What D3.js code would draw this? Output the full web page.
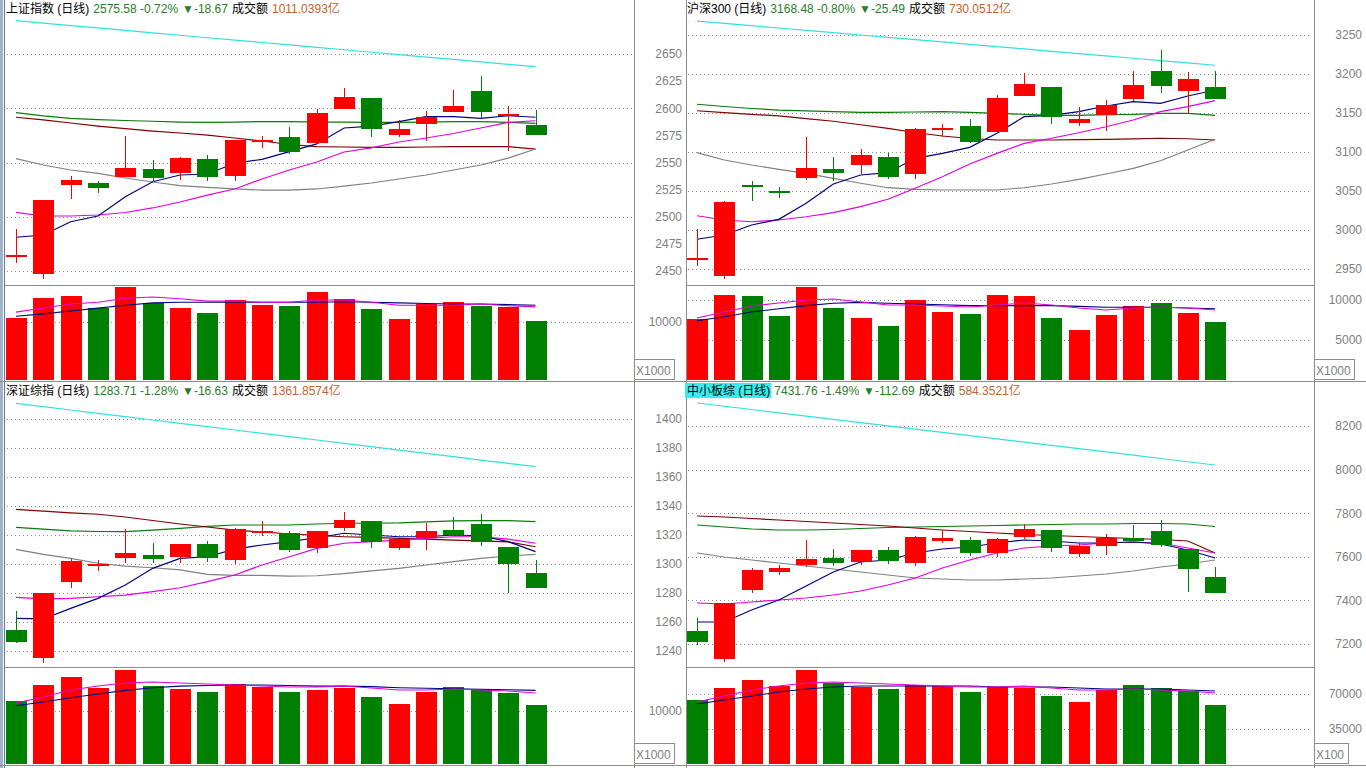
<!DOCTYPE html>
<html><head><meta charset="utf-8">
<script src="https://cdn.jsdelivr.net/npm/d3@7"></script>
<style>
body{margin:0;background:#fff;overflow:hidden}
svg{display:block;font-family:"Liberation Sans","Noto Sans CJK SC",sans-serif}
</style></head>
<body><svg id="c" width="1366" height="768"></svg>
<script>
// ---------- categories (trading days) ----------
const days = ["1","2","3","4","5","6","7","8","9","10","11","12","13","14","15","16","17","18","19","20"];

// ---------- 上证指数 ----------
const shOpen  = [2464.1,2447.2,2529.5,2531.1,2536.9,2543.7,2540.6,2552.9,2537.8,2568.3,2573.8,2568.3,2599.6,2609.4,2575.3,2584.8,2596.5,2615.9,2592.2,2584.6];
const shHigh  = [2488.7,2515.8,2537.8,2533.0,2574.4,2552.0,2555.3,2556.9,2571.0,2574.4,2582.7,2599.6,2618.7,2609.4,2589.2,2597.5,2616.8,2629.4,2602.1,2598.4];
const shLow   = [2457.4,2442.4,2516.4,2521.6,2536.2,2532.3,2533.9,2533.2,2533.2,2563.6,2557.8,2568.0,2599.2,2573.8,2573.2,2570.1,2596.2,2591.0,2560.9,2575.3];
const shClose = [2464.5,2515.4,2533.9,2526.8,2544.9,2535.4,2554.1,2536.0,2570.7,2570.5,2560.0,2595.6,2610.4,2580.6,2580.9,2591.7,2602.1,2596.5,2594.25,2575.58];
const shMA5   = [2481.1,2483.2,2495.4,2500.7,2518.5,2532.3,2538.5,2539.4,2549.3,2552.9,2560.0,2567.1,2581.8,2583.6,2587.6,2592.2,2592.2,2590.7,2593.1,2591.7];
const shMA10  = [2504.1,2500.7,2500.7,2501.6,2503.9,2508.1,2513.6,2520.0,2525.6,2534.8,2543.1,2550.5,2559.7,2563.4,2568.9,2572.6,2576.7,2581.8,2586.9,2588.5];
const shMA20  = [2553.5,2547.7,2543.1,2540.0,2535.7,2532.0,2528.6,2527.0,2525.6,2524.6,2524.6,2525.6,2528.3,2531.1,2534.8,2538.5,2543.1,2547.7,2554.1,2562.4];
const shMA30  = [2595.9,2592.9,2590.6,2589.6,2588.7,2588.0,2587.3,2587.0,2587.3,2587.8,2587.6,2587.3,2587.3,2587.0,2587.0,2587.3,2587.6,2587.6,2587.0,2586.1];
const shMA60  = [2591.7,2589.2,2586.4,2583.6,2581.3,2579.0,2577.2,2575.3,2572.6,2569.8,2566.6,2564.7,2564.3,2564.0,2564.0,2564.3,2564.6,2564.6,2564.6,2562.4];
const shMA120 = [2680.7,2678.4,2676.2,2674.0,2671.8,2669.5,2667.3,2665.0,2662.8,2660.6,2658.4,2656.1,2653.9,2651.6,2649.4,2647.2,2645.0,2642.8,2640.5,2638.3];
const shVol   = [10690,14138,14483,12414,16034,13276,12414,11552,13793,12931,12759,15172,13966,12241,10517,13103,13448,12759,12586,10172];
const shVolMA5  = [11700,12400,13100,13400,14100,14300,14000,13600,13600,13400,13400,13800,13800,13400,12900,12900,12900,13100,12800,12600];
const shVolMA10 = [11000,11400,11900,12400,12900,13300,13400,13400,13400,13400,13400,13400,13500,13400,13300,13200,13100,13100,13000,12900];
const shTicks = [2650,2625,2600,2575,2550,2525,2500,2475,2450];
const shGrid  = [2650,2600,2550,2500,2450];
const shVolTicks = [10000];

// ---------- 沪深300 ----------
const hsOpen  = [2964.3,2941.4,3057.2,3050.4,3065.8,3077.8,3083.7,3093.6,3071.8,3127.3,3133.3,3125.6,3172.2,3183.3,3137.6,3147.1,3167.1,3203.8,3179.1,3183.3];
const hsHigh  = [3000.9,3036.8,3062.8,3055.5,3119.2,3093.6,3103.8,3098.3,3130.3,3135.9,3142.3,3172.7,3200.9,3183.3,3158.1,3166.7,3203.8,3230.8,3202.6,3203.8];
const hsLow   = [2954.2,2936.8,3037.6,3040.6,3064.5,3063.2,3071.8,3065.8,3065.8,3118.8,3111.2,3125.6,3172.2,3135.9,3133.3,3127.3,3165.8,3176.0,3149.6,3168.48];
const hsClose = [2964.6,3035.9,3056.8,3050.0,3079.1,3073.1,3096.2,3068.3,3129.5,3130.4,3113.2,3169.2,3187.2,3145.3,3142.7,3160.3,3185.5,3185.0,3193.97,3168.48];
const hsMA5   = [2988.1,2993.6,3006.4,3013.7,3034.2,3059.0,3070.5,3073.5,3091.9,3098.3,3106.0,3124.0,3145.3,3147.0,3151.7,3159.0,3164.5,3162.4,3171.8,3179.5];
const hsMA10  = [3018.3,3012.8,3010.6,3012.8,3017.0,3022.2,3029.9,3039.4,3053.5,3068.3,3084.6,3098.3,3111.1,3117.6,3124.7,3132.4,3141.0,3151.7,3158.1,3165.8];
const hsMA20  = [3099.1,3089.7,3083.3,3077.8,3072.7,3066.3,3059.9,3054.2,3052.2,3051.3,3051.3,3051.3,3054.2,3059.0,3065.0,3071.8,3079.1,3088.8,3102.6,3116.3];
const hsMA30  = [3161.2,3158.3,3155.8,3153.8,3152.6,3151.7,3150.9,3150.9,3151.3,3151.7,3150.9,3149.6,3148.3,3147.0,3147.0,3147.8,3148.3,3149.6,3149.6,3147.0];
const hsMA60  = [3152.9,3150.6,3148.3,3146.2,3142.9,3139.4,3134.9,3130.4,3125.0,3120.5,3117.3,3115.4,3115.4,3115.4,3115.8,3116.3,3116.7,3117.6,3117.0,3115.4];
const hsMA120 = [3267.9,3264.9,3261.9,3259.0,3256.0,3253.0,3250.0,3247.0,3244.0,3241.1,3238.1,3235.1,3232.1,3229.1,3226.1,3223.2,3220.2,3217.2,3214.2,3211.2];
const hsVol   = [7625,10625,10500,8000,11625,9000,7750,6750,10000,8500,8250,10625,10500,7750,6250,8125,9250,9625,8375,7250];
const hsVolMA5  = [7750,8500,9250,9625,10000,10125,9750,9375,9375,9250,9125,9375,9625,9375,9000,8750,9000,9125,9000,8750];
const hsVolMA10 = [7400,7900,8500,8900,9300,9600,9700,9600,9500,9400,9300,9300,9300,9300,9200,9100,9100,9100,9000,8900];
const hsTicks = [3250,3200,3150,3100,3050,3000,2950];
const hsVolTicks = [10000,5000];

// ---------- 深证综指 ----------
const szOpen  = [1254.5,1234.9,1287.8,1299.1,1304.3,1306.2,1305.0,1313.8,1302.3,1322.3,1321.6,1311.2,1324.6,1329.7,1311.2,1318.1,1323.4,1327.6,1311.9,1293.8];
const szHigh  = [1267.6,1279.8,1303.2,1302.8,1324.1,1314.7,1313.8,1315.9,1324.6,1329.7,1322.8,1322.8,1336.1,1329.7,1317.2,1328.1,1332.2,1334.5,1311.9,1303.0];
const szLow   = [1245.3,1231.9,1283.7,1295.4,1300.9,1300.9,1300.9,1301.6,1299.8,1319.5,1308.5,1307.4,1322.8,1311.2,1309.7,1309.7,1320.0,1312.6,1280.2,1283.71];
const szClose = [1246.4,1279.8,1302.1,1300.0,1307.6,1303.7,1313.8,1304.3,1323.9,1322.8,1309.7,1322.8,1330.3,1315.4,1317.2,1322.8,1320.0,1315.4,1300.34,1283.71];
const szMA5   = [1262.5,1262.1,1269.4,1276.3,1285.5,1297.0,1303.9,1305.0,1310.3,1313.1,1315.4,1318.1,1321.2,1320.0,1318.8,1318.8,1320.0,1319.5,1315.4,1308.5];
const szMA10  = [1277.0,1275.9,1276.3,1277.4,1278.6,1280.9,1283.6,1287.8,1292.4,1299.3,1305.0,1310.8,1314.3,1315.4,1316.5,1317.7,1318.8,1318.8,1317.2,1314.3];
const szMA20  = [1310.1,1306.7,1303.9,1300.5,1298.6,1297.4,1295.9,1292.9,1292.2,1292.2,1291.7,1291.9,1293.3,1295.2,1297.0,1299.3,1301.6,1303.9,1305.5,1306.7];
const szMA30  = [1325.3,1324.1,1322.8,1322.4,1322.3,1323.4,1324.6,1325.9,1326.9,1326.9,1326.9,1327.6,1328.1,1328.1,1328.3,1329.0,1329.7,1329.9,1329.9,1329.2];
const szMA60  = [1337.7,1336.5,1335.2,1334.3,1332.4,1330.0,1327.6,1325.5,1323.4,1322.1,1320.7,1319.7,1318.8,1318.3,1317.7,1317.2,1316.5,1315.9,1315.2,1311.9];
const szMA120 = [1410.8,1408.5,1406.2,1403.9,1401.6,1399.3,1397.0,1394.7,1392.4,1390.1,1387.8,1385.5,1383.2,1380.9,1378.6,1376.3,1374.0,1371.7,1369.4,1367.1];
const szVol   = [11887,14906,16415,14340,17736,14717,14151,13585,15094,14528,13585,13962,14340,12642,11321,13585,14528,14151,13396,11132];
const szVolMA5  = [11509,12642,13962,14717,15283,15472,15283,15094,14906,14717,14528,14528,14717,14340,13962,13962,14151,13962,13774,13396];
const szVolMA10 = [11000,11700,12500,13200,13900,14400,14700,14800,14900,14900,14800,14700,14700,14600,14400,14300,14200,14100,14000,13900];
const szTicks = [1400,1380,1360,1340,1320,1300,1280,1260,1240];
const szVolTicks = [10000];

// ---------- 中小板综 ----------
const zxOpen  = [7259.6,7131.2,7447.7,7530.3,7562.4,7594.5,7576.1,7631.2,7571.6,7672.5,7677.0,7617.4,7690.8,7722.9,7612.8,7649.5,7686.2,7718.3,7635.8,7507.3];
const zxHigh  = [7319.3,7388.1,7548.6,7562.4,7677.0,7635.8,7631.2,7644.9,7695.4,7723.0,7690.8,7686.2,7750.5,7722.9,7663.3,7704.6,7745.9,7768.8,7635.8,7553.2];
const zxLow   = [7195.4,7117.4,7434.0,7516.5,7553.2,7557.8,7562.4,7567.0,7557.8,7663.3,7603.7,7599.1,7681.7,7622.0,7599.1,7608.3,7672.5,7644.9,7438.5,7431.76];
const zxClose = [7209.2,7388.1,7539.4,7548.6,7589.9,7571.6,7631.2,7580.7,7690.8,7686.2,7617.4,7681.7,7727.5,7640.4,7649.5,7686.2,7672.5,7654.1,7544.45,7431.76];
const zxMA5   = [7300.9,7300.9,7356.0,7401.9,7466.1,7530.3,7576.2,7585.3,7617.5,7635.8,7645.0,7663.3,7677.1,7672.5,7663.3,7663.3,7667.9,7658.7,7631.2,7594.5];
const zxMA10  = [7388.1,7383.5,7392.7,7401.9,7411.0,7424.8,7443.1,7470.7,7502.8,7548.6,7585.3,7617.5,7640.4,7649.6,7654.1,7663.3,7667.9,7663.3,7640.4,7617.5];
const zxMA20  = [7617.5,7599.1,7585.3,7571.6,7557.8,7544.1,7530.3,7516.5,7502.8,7498.2,7493.6,7493.6,7498.2,7502.8,7512.0,7521.1,7534.9,7553.2,7567.0,7585.3];
const zxMA30  = [7745.9,7736.7,7727.5,7723.0,7723.0,7725.2,7729.8,7734.4,7736.7,7739.0,7741.3,7743.6,7745.9,7748.2,7750.5,7750.5,7752.8,7752.8,7750.5,7739.0];
const zxMA60  = [7787.2,7782.6,7775.7,7768.8,7761.9,7755.1,7748.2,7741.3,7732.1,7723.0,7716.1,7709.2,7702.3,7697.7,7693.1,7688.5,7684.0,7679.4,7672.5,7617.5];
const zxMA120 = [8305.5,8290.5,8275.6,8260.6,8245.6,8230.7,8215.7,8200.7,8185.7,8170.8,8155.8,8140.8,8125.9,8110.9,8095.9,8080.9,8066.0,8051.0,8036.0,8021.0];
const zxVol   = [64000,76000,84000,78000,94000,81000,77000,75000,79000,78000,72000,77000,76000,68000,62000,74000,79000,76000,73000,59000];
const zxVolMA5  = [62000,68000,74000,78000,81000,82000,81000,80000,79000,78000,77000,77000,78000,76000,74000,74000,75000,74000,73000,71000];
const zxVolMA10 = [60000,64000,68000,72000,75000,77000,78000,78000,78000,78000,78000,77000,77000,77000,76000,75000,75000,75000,74000,73000];
const zxTicks = [8200,8000,7800,7600,7400,7200];
const zxVolTicks = [70000,35000];

// ---------- drawing ----------
const RED = "#ff0000", GREEN = "#008000";
const LINECOL = {ma5:"#000080", ma10:"#e000e0", ma20:"#808080", ma30:"#0a7a0a", ma60:"#800000", ma120:"#30e0e0"};
const svg = d3.select("#c");

const panels = [
  {title:"上证指数 (日线)", quote:"2575.58 -0.72%", chg:"▼-18.67", amt:"1011.0393亿",
   O:shOpen,H:shHigh,L:shLow,C:shClose, ma:{ma120:shMA120,ma30:shMA30,ma60:shMA60,ma20:shMA20,ma10:shMA10,ma5:shMA5},
   V:shVol, vma:[shVolMA10,shVolMA5], ticks:shTicks, grid:shGrid, vticks:shVolTicks, mult:"X1000",
   left:5, right:634, labelX:682, xr:[2.3,549.2], top:16, sep:285, bottom:380,
   yd:[2450,2650], yr:[271,54], vd:[0,10000], vr:[380,322], headY:13, hl:false},
  {title:"沪深300 (日线)", quote:"3168.48 -0.80%", chg:"▼-25.49", amt:"730.0512亿",
   O:hsOpen,H:hsHigh,L:hsLow,C:hsClose, ma:{ma120:hsMA120,ma30:hsMA30,ma60:hsMA60,ma20:hsMA20,ma10:hsMA10,ma5:hsMA5},
   V:hsVol, vma:[hsVolMA10,hsVolMA5], ticks:hsTicks, grid:hsTicks, vticks:hsVolTicks, mult:"X1000",
   left:686, right:1314, labelX:1362, xr:[683.4,1228.7], top:16, sep:285, bottom:380,
   yd:[2950,3250], yr:[269,35], vd:[0,10000], vr:[380,300], headY:13, hl:false},
  {title:"深证综指 (日线)", quote:"1283.71 -1.28%", chg:"▼-16.63", amt:"1361.8574亿",
   O:szOpen,H:szHigh,L:szLow,C:szClose, ma:{ma120:szMA120,ma30:szMA30,ma60:szMA60,ma20:szMA20,ma10:szMA10,ma5:szMA5},
   V:szVol, vma:[szVolMA10,szVolMA5], ticks:szTicks, grid:szTicks, vticks:szVolTicks, mult:"X1000",
   left:5, right:634, labelX:682, xr:[2.3,549.2], top:398, sep:667, bottom:764,
   yd:[1240,1400], yr:[651,419], vd:[0,10000], vr:[764,711], headY:395, hl:false},
  {title:"中小板综 (日线)", quote:"7431.76 -1.49%", chg:"▼-112.69", amt:"584.3521亿",
   O:zxOpen,H:zxHigh,L:zxLow,C:zxClose, ma:{ma120:zxMA120,ma30:zxMA30,ma60:zxMA60,ma20:zxMA20,ma10:zxMA10,ma5:zxMA5},
   V:zxVol, vma:[zxVolMA10,zxVolMA5], ticks:zxTicks, grid:zxTicks, vticks:zxVolTicks, mult:"X100",
   left:686, right:1314, labelX:1362, xr:[683.4,1228.7], top:398, sep:667, bottom:764,
   yd:[7200,8200], yr:[644,426], vd:[0,70000], vr:[764,694], headY:395, hl:true}
];

// frame
const frame = svg.append("g").attr("stroke","#8c8c8c").attr("stroke-width",1).attr("shape-rendering","crispEdges");
frame.append("rect").attr("x",0).attr("y",0).attr("width",3).attr("height",768).attr("fill","#9fb2c6").attr("stroke","none");
frame.append("line").attr("x1",4.5).attr("x2",4.5).attr("y1",0).attr("y2",768).attr("stroke","#5b7a9c");
[634.5,686.5,1314.5].forEach(xv=>frame.append("line").attr("x1",xv).attr("x2",xv).attr("y1",0).attr("y2",768));
frame.append("line").attr("x1",0).attr("x2",1366).attr("y1",381.5).attr("y2",381.5);
frame.append("line").attr("x1",0).attr("x2",1366).attr("y1",765.5).attr("y2",765.5);

panels.forEach((p,pi)=>{
  const g = svg.append("g");
  const x = d3.scalePoint().domain(days).range(p.xr).padding(0.5);
  const y = d3.scaleLinear().domain(p.yd).range(p.yr);
  const vy = d3.scaleLinear().domain(p.vd).range(p.vr);
  const bw = Math.round(x.step()*0.78);

  g.append("line").attr("x1",p.left).attr("x2",p.right).attr("y1",p.sep+0.5).attr("y2",p.sep+0.5)
    .attr("stroke","#8c8c8c").attr("shape-rendering","crispEdges");

  const grid = g.append("g").attr("stroke","#909090").attr("stroke-dasharray","1,3").attr("shape-rendering","crispEdges");
  p.grid.forEach(v=>grid.append("line").attr("x1",p.left+2).attr("x2",p.right-2)
    .attr("y1",Math.round(y(v))+0.5).attr("y2",Math.round(y(v))+0.5));
  p.vticks.forEach(v=>grid.append("line").attr("x1",p.left+2).attr("x2",p.right-2)
    .attr("y1",Math.round(vy(v))+0.5).attr("y2",Math.round(vy(v))+0.5));

  const ax = g.append("g").attr("font-size",12).attr("fill","#808080").attr("text-anchor","end");
  p.ticks.forEach(v=>ax.append("text").attr("x",p.labelX).attr("y",y(v)).attr("dy","0.36em").text(v));
  p.vticks.forEach(v=>ax.append("text").attr("x",p.labelX).attr("y",vy(v)).attr("dy","0.36em").text(v));

  const mb = g.append("g");
  const mw = p.mult.length===5 ? 40 : 34;
  mb.append("rect").attr("x",p.right+0.5).attr("y",p.bottom-20.5).attr("width",mw).attr("height",20)
    .attr("fill","none").attr("stroke","#8c8c8c").attr("shape-rendering","crispEdges");
  mb.append("text").attr("x",p.right+2).attr("y",p.bottom-5).attr("font-size",12).attr("fill","#808080").text(p.mult);

  const cid = "clip"+pi;
  svg.append("clipPath").attr("id",cid).append("rect")
    .attr("x",p.left+1).attr("y",p.top).attr("width",p.right-p.left-1).attr("height",p.sep-p.top);
  const pg = g.append("g").attr("clip-path",`url(#${cid})`);

  Object.entries(p.ma).forEach(([k,arr])=>{
    pg.append("path").datum(arr).attr("fill","none").attr("stroke",LINECOL[k]).attr("stroke-width",1.2)
      .attr("d",d3.line().x((d,i)=>x(days[i])).y(d=>y(d)));
  });

  days.forEach((d,i)=>{
    const o=p.O[i], c=p.C[i], h=p.H[i], l=p.L[i];
    const col = c>=o ? RED : GREEN;
    const cx = Math.round(x(d));
    pg.append("line").attr("x1",cx+0.5).attr("x2",cx+0.5).attr("y1",y(h)).attr("y2",y(l))
      .attr("stroke",col).attr("stroke-width",1).attr("shape-rendering","crispEdges");
    const t = y(Math.max(o,c)), b = y(Math.min(o,c));
    pg.append("rect").attr("x",cx-Math.floor(bw/2)).attr("y",Math.round(t)).attr("width",bw)
      .attr("height",Math.max(2,Math.round(b-t))).attr("fill",col).attr("shape-rendering","crispEdges");
  });

  const vg = g.append("g");
  days.forEach((d,i)=>{
    const col = p.C[i]>=p.O[i] ? RED : GREEN;
    const cx = Math.round(x(d));
    vg.append("rect").attr("x",cx-Math.floor(bw/2)).attr("y",Math.round(vy(p.V[i]))).attr("width",bw)
      .attr("height",Math.round(vy(0)-vy(p.V[i]))).attr("fill",col).attr("shape-rendering","crispEdges");
  });
  const vcols = ["#000080","#e000e0"];
  p.vma.forEach((arr,k)=>{
    vg.append("path").datum(arr).attr("fill","none").attr("stroke",vcols[k]).attr("stroke-width",1.1)
      .attr("d",d3.line().x((d,i)=>x(days[i])).y(d=>vy(d)));
  });

  const hg = g.append("g").attr("font-size",12);
  let hx = p.left+1;
  const pieces = [[p.title,"#000"],[p.quote,"#2a7d2a"],[p.chg,"#2a7d2a"],["成交额","#000"],[p.amt,"#c4622d"]];
  pieces.forEach(([txt,col],k)=>{
    const t = hg.append("text").attr("x",hx).attr("y",p.headY).attr("fill",col).text(txt);
    const w = t.node().getComputedTextLength();
    if(k===0 && p.hl){
      hg.insert("rect","text").attr("x",hx-2).attr("y",p.headY-12).attr("width",w+3).attr("height",15).attr("fill","#33f0f0");
    }
    hx += w + 4;
  });
});
</script></body></html>
